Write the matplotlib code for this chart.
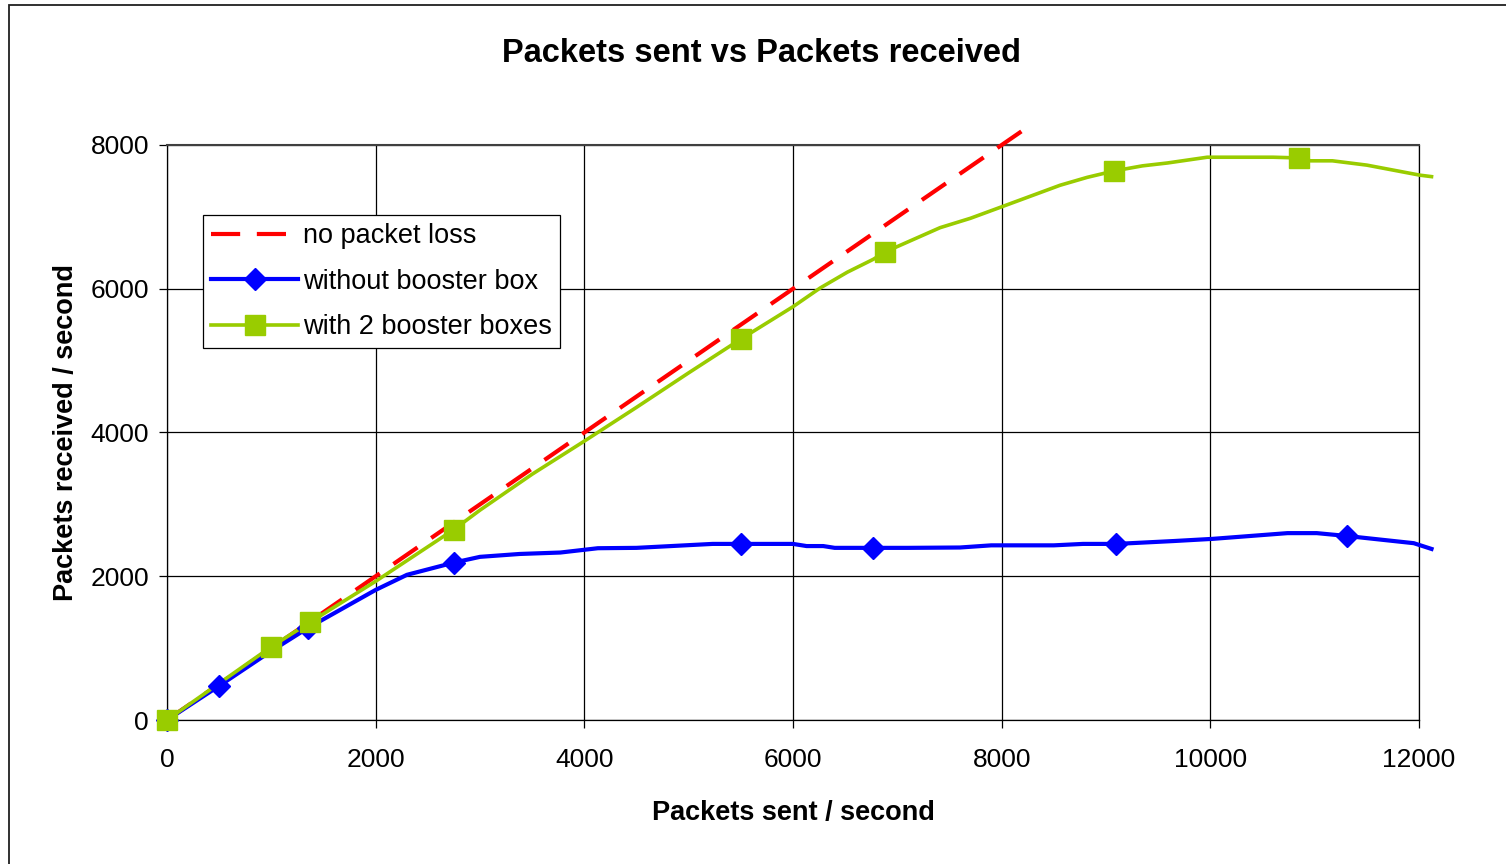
import matplotlib.pyplot as plt
from matplotlib.patches import Rectangle
from matplotlib.lines import Line2D

plt.rcParams['font.family'] = ['Liberation Sans', 'DejaVu Sans']

# ideal line (no loss)
no_loss_x = [0, 8200]
no_loss_y = [0, 8200]

# without booster box
without_x = [0, 500, 1000, 1350, 2000, 2300, 2750, 3000, 3380, 3770, 4130, 4500, 5230, 5500,
             6000, 6130, 6290, 6400, 6770, 7100, 7600, 7900, 8500, 8780, 9100, 9650, 10020,
             10740, 11020, 11310, 11950, 12120]
without_y = [0, 475, 960, 1280, 1810, 2020, 2190, 2270, 2310, 2330, 2390, 2395, 2450, 2450,
             2450, 2420, 2420, 2395, 2395, 2395, 2400, 2430, 2430, 2450, 2450, 2490, 2520,
             2600, 2600, 2560, 2460, 2380]
without_marks = [0, 1, 3, 6, 13, 18, 24, 29]

# with 2 booster boxes
with_x = [0, 1000, 1370, 2000, 2750, 3000, 3500, 4000, 4500, 5000, 5500, 6000, 6260, 6520,
          6770, 6880, 7410, 7700, 8000, 8560, 8820, 9080, 9350, 9590, 9970, 10600, 10850,
          10960, 11170, 11500, 12010, 12120]
with_y = [0, 1020, 1360, 1930, 2650, 2920, 3420, 3880, 4350, 4830, 5300, 5750, 6010, 6230,
          6410, 6510, 6850, 6980, 7140, 7440, 7550, 7640, 7710, 7750, 7830, 7830, 7820,
          7780, 7780, 7720, 7580, 7560]
with_marks = [0, 1, 2, 4, 10, 15, 21, 26]

xticks = [0, 2000, 4000, 6000, 8000, 10000, 12000]
yticks = [0, 2000, 4000, 6000, 8000]

red, blue, green = '#FF0000', '#0000FF', '#99CC00'

fig = plt.figure(figsize=(15.06, 8.64), dpi=100)
ax = fig.add_axes([167/1506, 1 - 720/864, (1419-167)/1506, (720-145)/864])

# outer chart border (cut off at right and bottom)
fig.patches.append(Rectangle((9/1506, -0.1), 1.2, 1.1 - 5/864, transform=fig.transFigure,
                             fill=False, edgecolor='#202020', lw=1.3))

ax.plot(no_loss_x, no_loss_y, color=red, lw=3, linestyle=(0, (7, 4)), clip_on=False, zorder=3)
ax.plot(without_x, without_y, color=blue, lw=3, clip_on=False, zorder=4)
ax.plot(with_x, with_y, color=green, lw=2.6, clip_on=False, zorder=5)
# markers on top of the lines
ax.plot([without_x[i] for i in without_marks], [without_y[i] for i in without_marks],
        ls='none', marker='D', ms=11.5, color=blue, clip_on=False, zorder=6)
ax.plot([with_x[i] for i in with_marks], [with_y[i] for i in with_marks],
        ls='none', marker='s', ms=14, color=green, clip_on=False, zorder=7)

ax.set_xlim(0, 12000)
ax.set_ylim(0, 8000)
ax.set_xticks(xticks)
ax.set_yticks(yticks)
ax.grid(True, color='black', lw=0.9)
ax.set_axisbelow(True)
for s in ax.spines.values():
    s.set_color('black')
    s.set_linewidth(0.9)
ax.spines['top'].set_color('#404040')
ax.spines['top'].set_linewidth(1.5)
ax.tick_params(axis='both', direction='out', length=6, width=0.9, labelsize=19)
ax.tick_params(axis='x', pad=14)
ax.tick_params(axis='y', pad=7)

fig.text(762/1506, 1 - 53/864, 'Packets sent vs Packets received', fontsize=23.5,
         fontweight='bold', ha='center', va='center')
ax.set_xlabel('Packets sent / second', fontsize=19.5, fontweight='bold', labelpad=20)
ax.set_ylabel('Packets received / second', fontsize=19.5, fontweight='bold', labelpad=8)

handles = [
    Line2D([], [], color=red, lw=3, linestyle=(0, (7, 4))),
    Line2D([], [], color=blue, lw=3, marker='D', ms=11.5),
    Line2D([], [], color=green, lw=2.6, marker='s', ms=14),
]
labels = ['no packet loss', 'without booster box', 'with 2 booster boxes']
leg = ax.legend(handles, labels, loc='upper left', bbox_to_anchor=(0.0288, 0.878), fontsize=19.5,
                handlelength=3.2, fancybox=False, framealpha=1, edgecolor='black',
                borderpad=0.3, labelspacing=0.72, handletextpad=0.2, borderaxespad=0)
leg.get_frame().set_linewidth(0.9)

fig.savefig('out.png', dpi=100)
